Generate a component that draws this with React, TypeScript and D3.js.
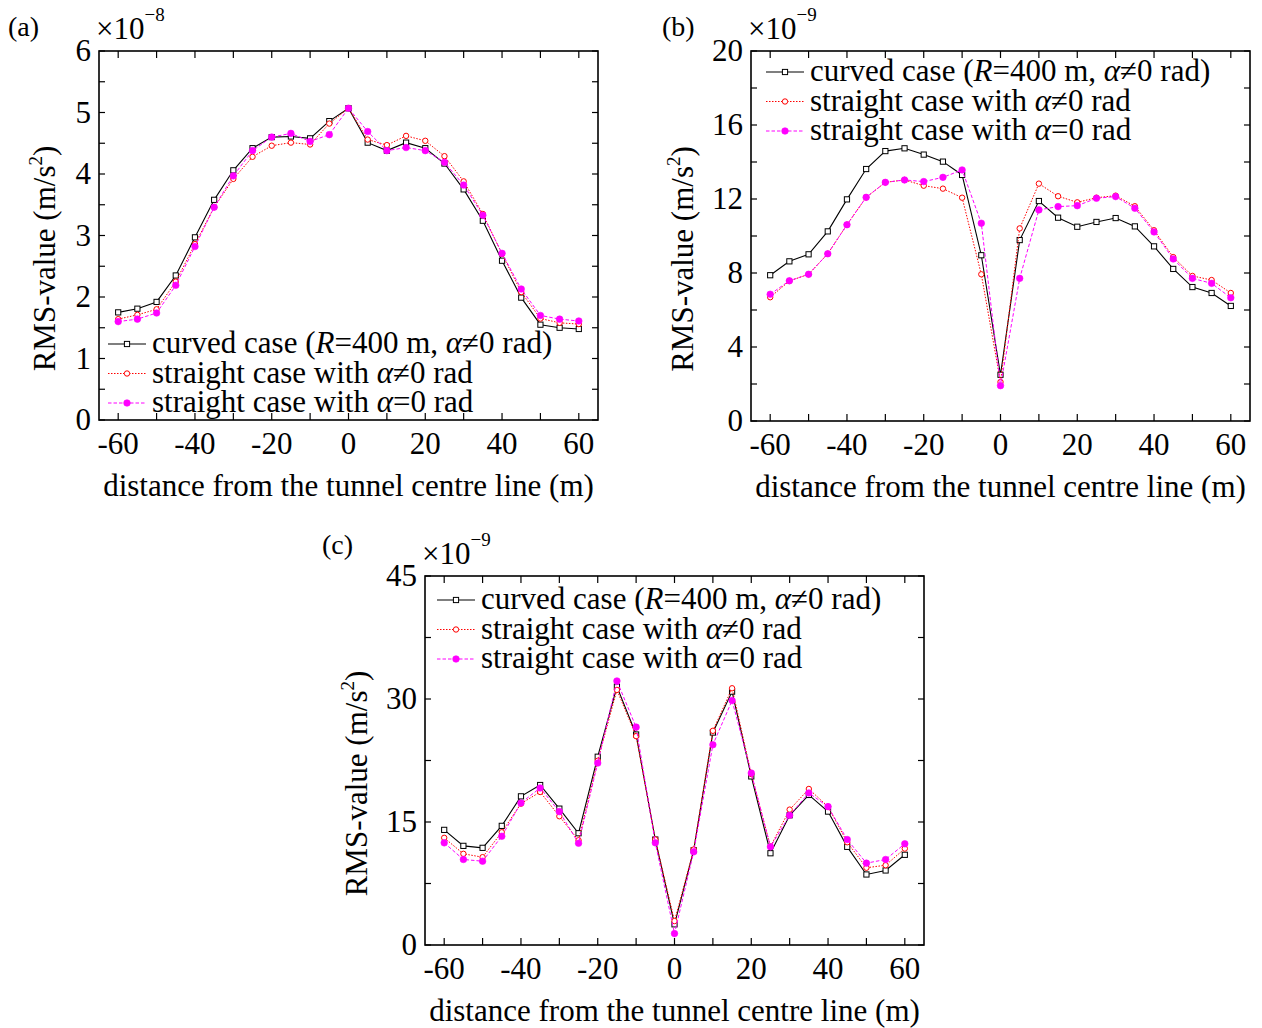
import React from 'react';
import * as d3 from 'd3';

// distance from the tunnel centre line (m)
const distance = [-60, -55, -50, -45, -40, -35, -30, -25, -20, -15, -10, -5, 0, 5, 10, 15, 20, 25, 30, 35, 40, 45, 50, 55, 60];

// (a) values in 1e-8 m/s^2
const curvedA = [1.75, 1.81, 1.92, 2.35, 2.97, 3.58, 4.06, 4.42, 4.6, 4.61, 4.58, 4.86, 5.07, 4.51, 4.38, 4.51, 4.42, 4.17, 3.75, 3.24, 2.59, 1.99, 1.55, 1.5, 1.48];
const straightAlphaA = [1.64, 1.71, 1.8, 2.25, 2.86, 3.46, 3.92, 4.28, 4.46, 4.51, 4.48, 4.82, 5.07, 4.56, 4.47, 4.62, 4.54, 4.29, 3.88, 3.35, 2.7, 2.08, 1.65, 1.58, 1.56];
const straightZeroA = [1.6, 1.64, 1.74, 2.19, 2.82, 3.46, 3.97, 4.38, 4.6, 4.66, 4.53, 4.64, 5.07, 4.69, 4.38, 4.43, 4.38, 4.19, 3.82, 3.33, 2.71, 2.13, 1.7, 1.64, 1.61];

// (b) values in 1e-9 m/s^2
const curvedB = [7.88, 8.63, 9.01, 10.25, 11.98, 13.62, 14.59, 14.74, 14.4, 14.02, 13.3, 8.96, 2.5, 9.78, 11.89, 10.99, 10.5, 10.76, 10.97, 10.52, 9.44, 8.22, 7.24, 6.92, 6.22];
const straightAlphaB = [6.69, 7.57, 7.93, 9.04, 10.61, 12.09, 12.9, 13.03, 12.72, 12.56, 12.07, 7.93, 2.11, 10.41, 12.83, 12.15, 11.82, 12.07, 12.18, 11.61, 10.31, 8.86, 7.84, 7.62, 6.92];
const straightZeroB = [6.85, 7.58, 7.93, 9.04, 10.61, 12.09, 12.9, 13.03, 12.94, 13.17, 13.57, 10.69, 1.91, 7.71, 11.41, 11.59, 11.64, 12.04, 12.13, 11.5, 10.22, 8.76, 7.71, 7.44, 6.66];

// (c) values in 1e-9 m/s^2
const curvedC = [14.04, 12.09, 11.85, 14.53, 18.13, 19.51, 16.63, 13.63, 22.96, 31.51, 25.67, 12.86, 2.52, 11.56, 25.91, 30.9, 20.56, 11.19, 15.82, 18.3, 16.27, 11.97, 8.6, 9.09, 11.0];
const straightAlphaC = [13.07, 11.12, 10.71, 13.75, 17.24, 18.66, 15.7, 12.77, 22.47, 31.11, 25.47, 12.86, 2.92, 11.64, 26.12, 31.31, 20.85, 12.01, 16.51, 19.03, 16.87, 12.53, 9.42, 9.73, 11.76];
const straightZeroC = [12.46, 10.43, 10.22, 13.26, 17.32, 19.15, 16.27, 12.41, 22.19, 32.2, 26.57, 12.46, 1.39, 11.36, 24.42, 29.81, 20.97, 11.97, 15.82, 18.54, 16.87, 12.86, 9.98, 10.43, 12.34];

const xTicks = [-60, -40, -20, 0, 20, 40, 60];
const xMinorTicks = [-60, -50, -40, -30, -20, -10, 0, 10, 20, 30, 40, 50, 60];

const FONT = '"Liberation Serif", "Times New Roman", serif';
const FS = 31;

type Panel = {
  tag: string;
  left: number; right: number; top: number; bottom: number;
  yMax: number; yTicks: number[]; yMinor: number[]; exp: string;
  series: number[][];
  legX: number; legY: number;
  tagDx: number; tagDy: number; labDx: number;
};

const panels: Panel[] = [
  {
    tag: '(a)', left: 99, right: 598, top: 51, bottom: 420,
    yMax: 6, yTicks: [0, 1, 2, 3, 4, 5, 6], yMinor: [0.5, 1.5, 2.5, 3.5, 4.5, 5.5], exp: '\u22128',
    series: [curvedA, straightAlphaA, straightZeroA], legX: 9, legY: 293,
    tagDx: -91, tagDy: -15, labDx: -44,
  },
  {
    tag: '(b)', left: 751, right: 1250, top: 51, bottom: 421,
    yMax: 20, yTicks: [0, 4, 8, 12, 16, 20], yMinor: [2, 6, 10, 14, 18], exp: '\u22129',
    series: [curvedB, straightAlphaB, straightZeroB], legX: 15, legY: 21,
    tagDx: -89, tagDy: -15, labDx: -58,
  },
  {
    tag: '(c)', left: 425, right: 924, top: 576, bottom: 945,
    yMax: 45, yTicks: [0, 15, 30, 45], yMinor: [7.5, 22.5, 37.5], exp: '\u22129',
    series: [curvedC, straightAlphaC, straightZeroC], legX: 12, legY: 24,
    tagDx: -103, tagDy: -22, labDx: -58,
  },
];

const styles = [
  { color: '#000000', dash: undefined as string | undefined, width: 1.1, marker: 'square' },
  { color: '#ff0000', dash: '1.5 1.5', width: 1, marker: 'circle' },
  { color: '#ff00ff', dash: '3.5 2', width: 1, marker: 'dot' },
];

const legendText = [
  <>curved case (<tspan fontStyle="italic">R</tspan>=400 m, <tspan fontStyle="italic">α</tspan>≠0 rad)</>,
  <>straight case with <tspan fontStyle="italic">α</tspan>≠0 rad</>,
  <> straight case with <tspan fontStyle="italic">α</tspan>=0 rad</>,
];

function Marker({ kind, x, y, color }: { kind: string; x: number; y: number; color: string }) {
  if (kind === 'square') return <rect x={x - 2.6} y={y - 2.6} width={5.2} height={5.2} fill="#fff" stroke={color} strokeWidth={1} />;
  if (kind === 'circle') return <circle cx={x} cy={y} r={2.7} fill="#fff" stroke={color} strokeWidth={1} />;
  return <circle cx={x} cy={y} r={3.3} fill={color} stroke={color} strokeWidth={0.6} />;
}

function ChartPanel({ p }: { p: Panel }) {
  const x = d3.scaleLinear().domain([-65, 65]).range([p.left, p.right]);
  const y = d3.scaleLinear().domain([0, p.yMax]).range([p.bottom, p.top]);
  const line = d3.line<number>().x((_, i) => x(distance[i])).y((v) => y(v));
  const midY = (p.top + p.bottom) / 2 + 23;
  const labX = p.left + p.labDx;
  return (
    <g fontFamily={FONT} fill="#000">
      <text x={p.left + p.tagDx} y={p.top + p.tagDy} fontSize={28}>{p.tag}</text>
      <text x={p.left - 3} y={p.top - 12} fontSize={FS}>
        ×10<tspan fontSize={19} dy={-18}>{p.exp}</tspan>
      </text>
      {/* frame */}
      <rect x={p.left} y={p.top} width={p.right - p.left} height={p.bottom - p.top} fill="none" stroke="#000" strokeWidth={1.6} />
      {xMinorTicks.map((t) => (
        <g key={'x' + t} stroke="#000" strokeWidth={1.2}>
          <line x1={x(t)} x2={x(t)} y1={p.bottom} y2={p.bottom - 7} />
          <line x1={x(t)} x2={x(t)} y1={p.top} y2={p.top + 7} />
        </g>
      ))}
      {[...p.yTicks, ...p.yMinor].map((t) => (
        <g key={'y' + t} stroke="#000" strokeWidth={1.2}>
          <line x1={p.left} x2={p.left + 6} y1={y(t)} y2={y(t)} />
          <line x1={p.right} x2={p.right - 6} y1={y(t)} y2={y(t)} />
        </g>
      ))}
      {xTicks.map((t) => (
        <text key={'xl' + t} x={x(t)} y={p.bottom + 34} fontSize={FS} textAnchor="middle">{t}</text>
      ))}
      {p.yTicks.map((t) => (
        <text key={'yl' + t} x={p.left - 8} y={y(t)} dy="0.33em" fontSize={FS} textAnchor="end">{t}</text>
      ))}
      <text x={(p.left + p.right) / 2} y={p.bottom + 76} fontSize={FS} textAnchor="middle">
        distance from the tunnel centre line (m)
      </text>
      <text transform={`translate(${labX},${midY}) rotate(-90)`} fontSize={FS} textAnchor="middle">
        RMS-value (m/s<tspan fontSize={19} dy={-13}>2</tspan><tspan dy={13}>)</tspan>
      </text>
      {/* series */}
      {p.series.map((s, si) => (
        <g key={'s' + si}>
          <path d={line(s) || ''} fill="none" stroke={styles[si].color} strokeWidth={styles[si].width} strokeDasharray={styles[si].dash} />
          {s.map((v, i) => (
            <Marker key={i} kind={styles[si].marker} x={x(distance[i])} y={y(v)} color={styles[si].color} />
          ))}
        </g>
      ))}
      {/* legend */}
      {styles.map((st, i) => {
        const ly = p.top + p.legY + i * 29.5;
        const lx = p.left + p.legX;
        return (
          <g key={'l' + i}>
            <line x1={lx} x2={lx + 38} y1={ly} y2={ly} stroke={st.color} strokeWidth={st.width} strokeDasharray={st.dash} />
            <Marker kind={st.marker} x={lx + 19} y={ly} color={st.color} />
            <text x={lx + 44} y={ly} dy="0.3em" fontSize={FS}>{legendText[i]}</text>
          </g>
        );
      })}
    </g>
  );
}

export default function App() {
  return (
    <svg width={1262} height={1028} style={{ display: 'block', position: 'absolute', left: 0, top: 0, background: '#fff' }}>
      <rect width={1262} height={1028} fill="#fff" />
      {panels.map((p) => (
        <ChartPanel key={p.tag} p={p} />
      ))}
    </svg>
  );
}
